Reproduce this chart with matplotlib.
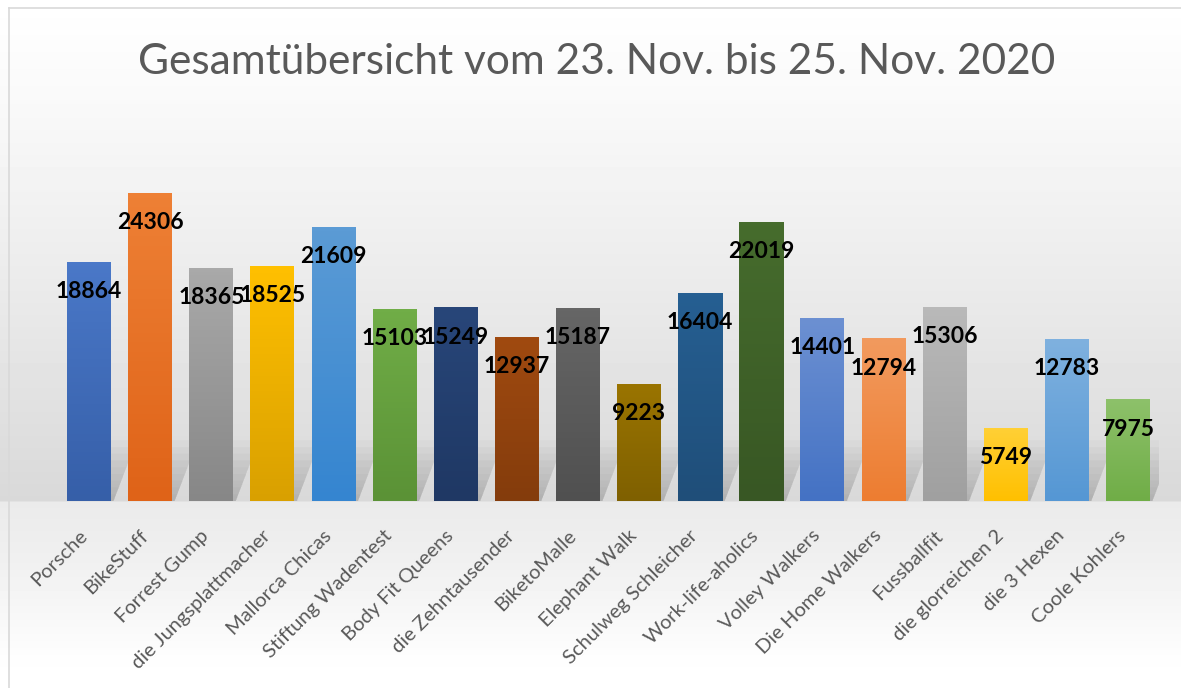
import numpy as np
import matplotlib.pyplot as plt
import matplotlib.transforms as mtransforms
from matplotlib.colors import LinearSegmentedColormap
from matplotlib.patches import Polygon
from matplotlib.lines import Line2D

teams = ['Porsche', 'BikeStuff', 'Forrest Gump', 'die Jungsplattmacher',
         'Mallorca Chicas', 'Stiftung Wadentest', 'Body Fit Queens',
         'die Zehntausender', 'BiketoMalle', 'Elephant Walk',
         'Schulweg Schleicher', 'Work-life-aholics', 'Volley Walkers',
         'Die Home Walkers', 'Fussballfit', 'die glorreichen 2',
         'die 3 Hexen', 'Coole Kohlers']
values = [18864, 24306, 18365, 18525, 21609, 15103, 15249, 12937, 15187,
          9223, 16404, 22019, 14401, 12794, 15306, 5749, 12783, 7975]

# bar gradient colours: top -> bottom
top_colors = ['#4a78c8', '#ee8035', '#a9a9a9', '#ffc000', '#5b9bd5', '#70ad47',
              '#284679', '#a04a10', '#666666', '#9a7400', '#265f92', '#466c2d',
              '#6c90d2', '#f29a5e', '#b9b9b9', '#ffd035', '#7fb1df', '#8dc16a']
bottom_colors = ['#365fa8', '#df6318', '#878787', '#d9a000', '#3585d0', '#5b9236',
                 '#1f3864', '#843c0c', '#505050', '#7f6000', '#1f4e79', '#385724',
                 '#4472c4', '#ed7d31', '#a0a0a0', '#ffc000', '#5597d4', '#70ad47']

W, H = 1181, 688
fig = plt.figure(figsize=(W / 100, H / 100), dpi=100)

# background gradient over the whole figure
bg = fig.add_axes([0, 0, 1, 1], zorder=-10)
yy = np.arange(H)
ypts = [0, 110, 300, 500, 502, 560, 660, 688]
gpts = [1.0, 0.975, 0.915, 0.85, 0.92, 0.94, 0.995, 1.0]
g = np.interp(yy, ypts, gpts)
bg.imshow(np.repeat(g[:, None], 2, axis=1), cmap='gray', vmin=0, vmax=1,
          aspect='auto', extent=[0, 1, 0, 1], origin='upper')
bg.axis('off')

fig.add_artist(Line2D([9 / W, 9 / W], [0, 1 - 8 / H], color='#d9d9d9', lw=1.2))
fig.add_artist(Line2D([9 / W, 1], [1 - 8 / H, 1 - 8 / H], color='#d9d9d9', lw=1.2))

ax = fig.add_axes([58.5 / W, (H - 501) / H, 1100 / W, 380 / H])
ax.patch.set_alpha(0)

x = np.arange(len(teams))
bars = ax.bar(x, values, width=0.72, color=top_colors, zorder=3)

for b, ct, cb in zip(bars, top_colors, bottom_colors):
    x0, w, h = b.get_x(), b.get_width(), b.get_height()
    # soft slanted shadow behind the bar
    for k in range(1, 10):
        sh = 4800 * k / 9
        dx = 0.38 * k / 9
        ax.add_patch(Polygon([(x0 + 0.08, 0), (x0 + w + 0.04, 0),
                              (x0 + w + dx + 0.04, sh), (x0 + dx + 0.08, sh)],
                             closed=True, facecolor='#666666', edgecolor='none',
                             alpha=0.04, zorder=1))
    cmap = LinearSegmentedColormap.from_list('g', [cb, ct])
    ax.imshow(np.linspace(0, 1, 64)[:, None], cmap=cmap, aspect='auto',
              extent=[x0, x0 + w, 0, h], origin='lower', zorder=4)
    ax.annotate(f'{int(h)}', (x0 + w / 2, h), xytext=(0, -21),
                textcoords='offset points', ha='center', va='center',
                fontsize=16.5, fontweight='bold', family='Lato', color='black',
                zorder=6)

ax.set_xlim(-0.5, len(teams) - 0.5)
ax.set_ylim(0, 30000)
ax.set_yticks([])
ax.set_xticks(x)
ax.set_xticklabels(teams, rotation=45, ha='right', rotation_mode='anchor',
                   va='center', fontsize=14.5, family='Lato', color='#595959')
ax.tick_params(axis='x', length=0, pad=23)
shift = mtransforms.ScaledTranslation(-5 / 100, 0, fig.dpi_scale_trans)
for lab in ax.get_xticklabels():
    lab.set_transform(lab.get_transform() + shift)
for s in ax.spines.values():
    s.set_visible(False)

fig.text(597 / W, 1 - 62 / H, 'Gesamtübersicht vom 23. Nov. bis 25. Nov. 2020',
         ha='center', va='center', fontsize=30.5, family='Lato',
         color='#595959')

fig.savefig('out.png', dpi=100)
